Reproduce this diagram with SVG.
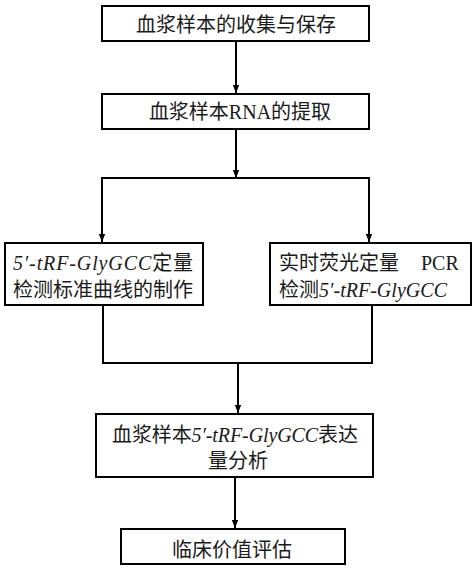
<svg xmlns="http://www.w3.org/2000/svg" width="474" height="571" viewBox="0 0 474 571">
<style>
.box{fill:#fff;stroke:#000;stroke-width:2}
.ln{fill:none;stroke:#000;stroke-width:2}
text{font-family:"Liberation Serif","Noto Sans CJK SC",serif;font-size:20px;fill:#1a1a1a}
.c{text-anchor:middle}
.i{font-style:italic}
</style>
<defs>
<marker id="ah" viewBox="0 0 10 10" refX="10" refY="5" markerWidth="8" markerHeight="8" markerUnits="userSpaceOnUse" orient="auto">
<path d="M0,1 L10,5 L0,9 Z" fill="#000"/>
</marker>
</defs>
<rect width="474" height="571" fill="#fff"/>
<g id="connectors">
<line class="ln" x1="236" y1="41" x2="236" y2="93" marker-end="url(#ah)"/>
<line class="ln" x1="236" y1="129" x2="236" y2="178" marker-end="url(#ah)"/>
<polyline class="ln" points="102,242 102,178 369,178 369,242"/>
<line class="ln" x1="102" y1="230" x2="102" y2="242" marker-end="url(#ah)"/>
<line class="ln" x1="369" y1="230" x2="369" y2="242" marker-end="url(#ah)"/>
<polyline class="ln" points="103,305 103,363 372,363 372,305"/>
<line class="ln" x1="238" y1="363" x2="238" y2="413" marker-end="url(#ah)"/>
<line class="ln" x1="235" y1="477" x2="235" y2="528" marker-end="url(#ah)"/>
</g>
<g id="n1">
<rect class="box" x="102" y="6" width="267" height="35"/>
<text x="236" y="32" class="c">血浆样本的收集与保存</text>
</g>
<g id="n2">
<rect class="box" x="102" y="94" width="267" height="35"/>
<text x="240" y="119" class="c">血浆样本RNA的提取</text>
</g>
<g id="n3">
<rect class="box" x="5" y="243" width="198" height="62"/>
<text x="13" y="270" textLength="180" lengthAdjust="spacing"><tspan class="i">5′-tRF-GlyGCC</tspan>定量</text>
<text x="13" y="297" textLength="180" lengthAdjust="spacing">检测标准曲线的制作</text>
</g>
<g id="n4">
<rect class="box" x="270" y="243" width="201" height="62"/>
<text x="279" y="270">实时荧光定量</text>
<text x="421" y="270">PCR</text>
<text x="279" y="297" textLength="168" lengthAdjust="spacing">检测<tspan class="i">5′-tRF-GlyGCC</tspan></text>
</g>
<g id="n5">
<rect class="box" x="96" y="414" width="277" height="63"/>
<text x="112" y="442" textLength="246" lengthAdjust="spacing">血浆样本<tspan class="i">5′-tRF-GlyGCC</tspan>表达</text>
<text x="238" y="468" class="c">量分析</text>
</g>
<g id="n6">
<rect class="box" x="121" y="529" width="224" height="35"/>
<text x="232" y="557" class="c">临床价值评估</text>
</g>
</svg>
